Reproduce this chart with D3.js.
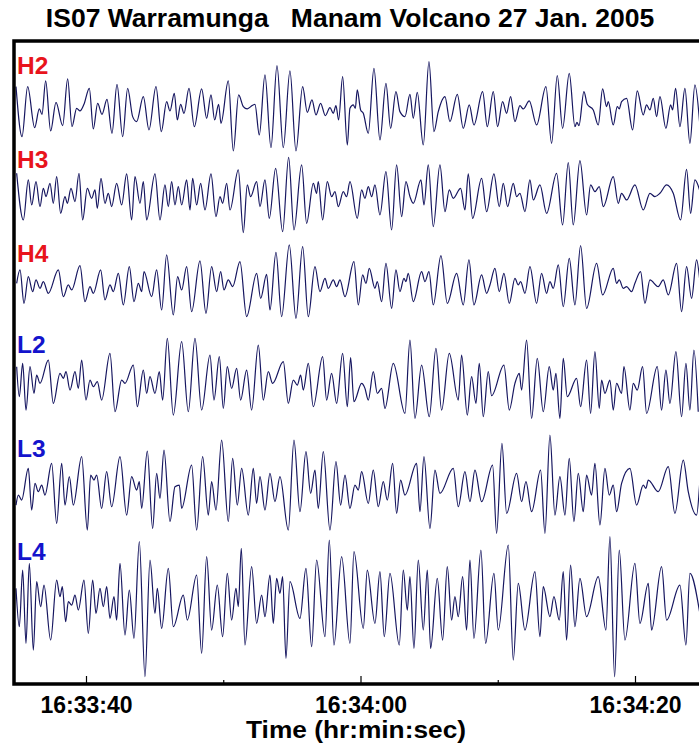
<!DOCTYPE html>
<html><head><meta charset="utf-8">
<script src="https://cdn.jsdelivr.net/npm/d3@7"></script>
<style>body{margin:0;background:#fff} svg{display:block}</style>
</head><body>
<svg id="c" width="699" height="744"></svg>
<script>
// ---- data ----
const SAMPLE_RATE = 41.18;
const START = [2005, 0, 27, 16, 33, 34, 463]; // time of sample 0
const title = "IS07 Warramunga   Manam Volcano 27 Jan. 2005";
const xTitle = "Time (hr:min:sec)";
const channels = ["H2", "H3", "H4", "L2", "L3", "L4"];
const tickTimes = ["16:33:40", "16:34:00", "16:34:20"];
const minorTimes = ["16:33:50", "16:34:10"];

// [sample index, amplitude] at the turning points of each trace
const H2 = [[18,65],[36,-85],[53,65],[74,-58],[88,-2],[96,-18],[107,82],[122,-68],[138,18],[158,-52],[173,88],[186,-55],[200,0],[210,-8],[222,12],[238,60],[250,-62],[263,15],[276,-18],[291,27],[306,-75],[321,72],[338,-85],[353,60],[368,-25],[380,-40],[400,35],[417,-65],[438,65],[454,-70],[470,20],[480,-8],[493,45],[502,-35],[512,12],[522,-15],[537,60],[553,-55],[575,58],[590,-30],[603,40],[614,-35],[626,12],[633,-45],[655,82],[670,-128],[686,40],[700,5],[712,-2],[722,5],[735,12],[748,-80],[765,100],[783,-118],[801,128],[820,-118],[840,112],[858,-128],[878,65],[892,-12],[906,25],[918,-20],[932,15],[946,-22],[960,2],[970,-15],[978,8],[986,-35],[998,95],[1012,-110],[1020,0],[1030,10],[1036,0],[1042,55],[1052,-5],[1060,-15],[1075,-75],[1092,120],[1110,-95],[1128,75],[1142,-60],[1158,50],[1170,-10],[1185,-25],[1200,42],[1210,-30],[1222,48],[1240,-110],[1257,140],[1272,-70],[1285,-10],[1305,35],[1320,-40],[1342,42],[1360,-60],[1378,10],[1392,-50],[1418,50],[1432,-55],[1450,50],[1463,-55],[1478,20],[1490,-15],[1502,35],[1515,-40],[1530,8],[1540,-2],[1558,22],[1580,-50],[1608,65],[1625,-105],[1642,98],[1658,-60],[1678,105],[1695,-55],[1701,-42],[1707,-52],[1722,50],[1732,12],[1750,-5],[1765,-50],[1778,58],[1790,5],[1795,20],[1810,-50],[1822,5],[1828,-2],[1835,20],[1850,30],[1868,-65],[1882,52],[1900,-20],[1910,10],[1920,-5],[1930,30],[1940,-25],[1950,35],[1968,-60],[1982,10],[1988,-5],[1997,60],[2010,-55],[2025,60],[2040,-105],[2055,70],[2069,-40]];
const H3 = [[20,60],[40,-80],[55,40],[65,-35],[78,35],[90,-40],[100,15],[108,-10],[120,30],[130,-30],[140,50],[152,-60],[165,-10],[172,-30],[183,15],[195,-25],[207,60],[218,-80],[232,15],[245,-15],[255,10],[262,-45],[273,45],[285,-30],[295,0],[305,-40],[320,30],[335,-35],[350,58],[365,-80],[375,50],[390,-30],[400,35],[410,-80],[435,58],[450,-80],[465,25],[475,-40],[485,35],[495,-35],[505,20],[515,-35],[530,40],[540,-50],[548,45],[560,-35],[572,30],[585,-50],[603,58],[618,-70],[630,-10],[638,-30],[650,30],[660,-50],[685,70],[700,-118],[712,25],[722,-10],[740,35],[750,-40],[765,40],[778,-75],[797,75],[818,-115],[836,108],[852,-110],[875,85],[890,-90],[910,30],[920,0],[925,35],[938,-80],[952,35],[965,-10],[975,5],[985,-40],[1000,5],[1010,-10],[1020,35],[1042,-75],[1055,10],[1065,-15],[1075,20],[1085,-10],[1095,25],[1110,-65],[1128,65],[1145,-110],[1160,85],[1175,-70],[1188,35],[1200,-10],[1210,-30],[1233,40],[1242,-35],[1255,85],[1270,-100],[1290,85],[1305,-55],[1318,10],[1330,-15],[1352,15],[1365,-50],[1375,58],[1388,-75],[1415,45],[1430,-55],[1452,58],[1468,-40],[1480,30],[1493,-40],[1510,30],[1520,-10],[1530,0],[1545,-55],[1560,40],[1570,-20],[1590,25],[1610,-60],[1640,60],[1658,-95],[1675,92],[1690,-95],[1710,98],[1730,-65],[1742,25],[1755,5],[1768,20],[1780,-40],[1810,50],[1825,-30],[1835,0],[1850,-20],[1875,25],[1900,-50],[1920,0],[1935,-10],[1950,0],[1970,25],[1990,0],[2012,-80],[2030,72],[2042,-60],[2055,40],[2069,10]];
const H4 = [[20,0],[30,40],[42,-60],[55,20],[68,-25],[78,10],[90,-15],[100,5],[115,-30],[145,40],[160,-40],[175,-5],[185,-20],[210,53],[225,-55],[240,-10],[250,-30],[272,40],[285,-50],[300,-5],[310,-25],[325,30],[340,-65],[358,50],[372,-55],[385,0],[395,-25],[402,35],[425,-40],[440,40],[455,-80],[470,85],[490,-95],[503,20],[515,-20],[530,50],[545,-85],[570,67],[588,-90],[605,50],[620,-25],[632,35],[642,-20],[655,10],[668,-10],[690,65],[710,-100],[740,30],[752,-45],[770,27],[780,-80],[798,93],[815,-100],[838,115],[858,-105],[878,110],[895,-100],[915,50],[930,-25],[945,15],[955,-15],[970,10],[980,-10],[990,10],[1005,-40],[1032,65],[1045,-65],[1058,25],[1068,0],[1078,45],[1095,-15],[1102,5],[1115,-55],[1128,60],[1145,-75],[1158,40],[1170,-25],[1182,15],[1188,5],[1195,30],[1210,-55],[1235,35],[1245,5],[1257,35],[1270,-65],[1293,83],[1312,-60],[1340,30],[1360,-65],[1377,70],[1392,-65],[1415,25],[1430,-30],[1440,-5],[1455,45],[1468,-25],[1482,30],[1498,-60],[1515,15],[1525,-5],[1532,5],[1545,-30],[1560,50],[1580,-60],[1595,30],[1610,-30],[1620,5],[1630,-15],[1645,55],[1660,-70],[1678,75],[1695,-65],[1712,113],[1730,-75],[1760,60],[1778,-35],[1810,45],[1820,0],[1828,10],[1840,-15],[1850,-10],[1865,-25],[1875,0],[1892,35],[1905,-60],[1920,10],[1945,-10],[1960,10],[1975,-35],[2000,60],[2015,-85],[2030,50],[2045,-45],[2060,70],[2069,15]];
const L2 = [[20,45],[28,-45],[38,55],[48,-85],[60,45],[72,-35],[80,20],[90,-5],[115,65],[130,-65],[150,25],[160,10],[168,30],[180,-25],[195,30],[205,-20],[215,65],[228,-55],[240,5],[250,-15],[262,0],[275,-55],[300,85],[315,-90],[335,5],[345,-5],[370,50],[382,-75],[400,35],[410,-35],[420,15],[435,-35],[448,30],[458,-55],[472,130],[490,-100],[515,120],[535,-90],[555,130],[575,-85],[600,80],[612,-55],[628,75],[640,-80],[652,45],[665,-20],[680,40],[692,-55],[710,35],[725,-85],[745,110],[760,-55],[775,30],[788,-5],[820,60],[835,-65],[850,5],[862,-10],[872,20],[880,-25],[895,55],[910,-75],[938,75],[950,-55],[965,25],[980,-65],[998,85],[1012,-75],[1022,72],[1032,-60],[1055,-5],[1065,-20],[1075,-55],[1090,30],[1102,-35],[1115,-20],[1125,-80],[1150,55],[1185,-95],[1200,125],[1215,-110],[1235,50],[1258,-105],[1278,100],[1295,-85],[1318,85],[1345,-55],[1355,80],[1372,-100],[1385,15],[1398,-65],[1408,55],[1420,-105],[1435,30],[1445,-42],[1482,50],[1498,-85],[1515,-5],[1528,25],[1535,-25],[1550,125],[1565,-110],[1582,70],[1600,-90],[1618,45],[1630,-25],[1638,25],[1650,-110],[1660,70],[1672,-45],[1700,10],[1712,-75],[1730,65],[1742,-95],[1755,90],[1768,-80],[1775,5],[1785,-35],[1800,5],[1810,-85],[1820,-5],[1835,-35],[1842,45],[1860,-85],[1870,-5],[1882,-25],[1898,45],[1910,-95],[1942,45],[1955,-85],[1968,35],[1980,-65],[1998,90],[2015,-105],[2028,55],[2040,-85],[2052,95],[2065,-90]];
const L3 = [[18,-55],[25,-25],[35,-40],[55,55],[65,-70],[75,10],[85,-15],[95,5],[105,-25],[125,70],[140,-110],[155,70],[165,-55],[178,30],[190,-55],[215,90],[232,-130],[242,35],[252,20],[260,35],[275,-65],[290,45],[305,-60],[330,90],[350,-85],[365,30],[380,-10],[388,15],[395,-65],[412,107],[428,-125],[440,40],[450,-35],[462,110],[480,-105],[495,0],[508,5],[515,-65],[545,65],[560,-130],[578,90],[595,-85],[605,15],[618,-70],[635,140],[655,-105],[668,85],[682,-55],[695,55],[715,-85],[730,55],[740,-50],[750,30],[765,-70],[780,40],[795,-45],[810,30],[835,-130],[852,140],[870,-75],[888,105],[902,-20],[915,50],[925,-65],[940,105],[960,-130],[978,75],[992,-55],[1005,35],[1020,-65],[1035,5],[1045,-10],[1055,45],[1075,-50],[1090,50],[1105,-60],[1120,15],[1132,-40],[1148,70],[1160,-80],[1172,20],[1185,-25],[1220,70],[1230,-75],[1242,90],[1260,-125],[1275,50],[1290,-20],[1330,55],[1345,-60],[1365,45],[1380,-45],[1395,50],[1415,-45],[1448,65],[1460,-140],[1476,130],[1490,-80],[1520,40],[1535,-45],[1548,15],[1565,-75],[1592,50],[1605,-140],[1620,155],[1635,-85],[1650,30],[1665,-85],[1678,85],[1692,-105],[1705,40],[1720,-75],[1730,35],[1745,-25],[1755,70],[1770,-115],[1785,55],[1798,-25],[1810,5],[1820,-75],[1835,10],[1860,55],[1880,-55],[1900,5],[1908,-5],[1915,20],[1945,-15],[1975,60],[1995,-80],[2020,80],[2035,-15],[2060,-85],[2069,5]];
const L4 = [[18,40],[28,-75],[38,95],[48,-125],[58,115],[70,-145],[80,60],[92,-15],[102,50],[122,-115],[140,65],[150,15],[157,45],[167,-60],[175,0],[185,-10],[195,20],[205,-25],[222,65],[235,-95],[248,65],[258,-35],[270,40],[280,-15],[290,45],[300,-50],[312,15],[320,-55],[330,115],[345,-100],[358,35],[372,-110],[388,180],[405,-225],[420,125],[435,-35],[442,40],[455,-80],[475,100],[490,-75],[520,20],[532,-55],[560,80],[575,-155],[590,135],[605,-85],[622,50],[638,-105],[652,85],[665,-55],[678,40],[685,-15],[694,160],[705,-130],[725,105],[740,-65],[755,20],[765,-45],[780,80],[790,-65],[800,70],[810,25],[818,75],[828,-170],[840,60],[870,-50],[888,100],[905,-135],[920,125],[945,-105],[958,185],[972,-130],[995,135],[1020,-125],[1032,150],[1060,-80],[1072,95],[1095,-65],[1110,90],[1123,-105],[1140,85],[1168,-130],[1180,95],[1192,-25],[1200,75],[1212,-140],[1225,125],[1240,-85],[1252,95],[1262,-140],[1282,70],[1298,-115],[1312,105],[1325,-55],[1335,15],[1345,-45],[1358,75],[1370,-85],[1380,125],[1392,-110],[1413,155],[1427,-125],[1452,85],[1465,-85],[1495,170],[1510,-175],[1525,55],[1545,-85],[1575,90],[1590,-105],[1600,45],[1620,-45],[1632,15],[1648,-55],[1660,90],[1670,-115],[1682,110],[1695,-75],[1710,70],[1730,-45],[1765,75],[1788,-85],[1800,195],[1814,-225],[1828,155],[1845,-115],[1875,115],[1890,-65],[1915,55],[1925,-85],[1955,105],[1970,-55],[2010,50],[2028,-130],[2040,85],[2069,-30]];
const traces = [H2, H3, H4, L2, L3, L4];

// ---- layout ----
const frame = {left: 14, top: 41, right: 740, bottom: 684};
const traceCenter = [108.3, 193.3, 283.3, 381.7, 486.7, 601.7];
const labelBase = [74, 168, 262, 353, 457, 560];
const labelColor = ["#e8141c","#e8141c","#e8141c","#1414cc","#1414cc","#1414cc"];
const FONT = "'Liberation Sans', Arial, Helvetica, sans-serif";

const svg = d3.select("#c");
const t0 = new Date(...START).getTime();
const timeOf = i => new Date(t0 + i / SAMPLE_RATE * 1000);
const hms = s => { const [h,m,sec] = s.split(":").map(Number); return new Date(2005,0,27,h,m,sec); };

const x = d3.scaleTime().domain([hms(tickTimes[0]), hms(tickTimes[2])]).range([86, 635]);
const amp = d3.scaleLinear().domain([-300, 300]).range([100, -100]);

svg.append("defs").append("clipPath").attr("id","clip")
  .append("rect").attr("x", frame.left).attr("y", frame.top)
  .attr("width", frame.right - frame.left).attr("height", frame.bottom - frame.top);

const g = svg.append("g").attr("clip-path","url(#clip)");
traces.forEach((tr, k) => {
  const line = d3.line()
    .x(d => x(timeOf(d[0])))
    .y(d => traceCenter[k] + amp(d[1]))
    .curve(d3.curveMonotoneX);
  g.append("path").attr("d", line(tr))
    .attr("fill","none").attr("stroke","#161660").attr("stroke-width",1.2)
    .attr("stroke-linejoin","round");
});

channels.forEach((c, k) => {
  svg.append("text").attr("x", 17).attr("y", labelBase[k]).text(c)
    .attr("font-family", FONT).attr("font-weight","bold").attr("font-size", 24.5)
    .attr("fill", labelColor[k]);
});

// frame
svg.append("rect").attr("x", frame.left).attr("y", frame.top)
  .attr("width", frame.right - frame.left).attr("height", frame.bottom - frame.top)
  .attr("fill","none").attr("stroke","#000").attr("stroke-width",3.5);

// axis
const axis = d3.axisBottom(x).tickValues(tickTimes.map(hms))
  .tickFormat(d3.timeFormat("%H:%M:%S")).tickSizeInner(-8).tickSizeOuter(0).tickPadding(0);
const ax = svg.append("g").attr("transform", `translate(0,${frame.bottom})`).call(axis);
ax.select(".domain").remove();
ax.selectAll(".tick line").attr("stroke","#000").attr("stroke-width",1.2);
ax.selectAll(".tick text").attr("y", 29).attr("dy", 0)
  .attr("font-family", FONT).attr("font-weight","bold").attr("font-size", 23).attr("fill","#000");
const minor = d3.axisBottom(x).tickValues(minorTimes.map(hms)).tickSizeInner(-4).tickSizeOuter(0).tickFormat("");
const mx = svg.append("g").attr("transform", `translate(0,${frame.bottom})`).call(minor);
mx.select(".domain").remove();
mx.selectAll(".tick line").attr("stroke","#000").attr("stroke-width",1.2);

svg.append("text").attr("x", 356).attr("y", 738).attr("text-anchor","middle").text(xTitle)
  .attr("font-family", FONT).attr("font-weight","bold").attr("font-size", 23)
  .attr("textLength", 220).attr("lengthAdjust", "spacingAndGlyphs");
svg.append("text").attr("x", 350).attr("y", 27).attr("text-anchor","middle").text(title)
  .attr("font-family", FONT).attr("font-weight","bold").attr("font-size", 26.5).style("white-space","pre")
  .attr("xml:space","preserve");
</script>
</body></html>
